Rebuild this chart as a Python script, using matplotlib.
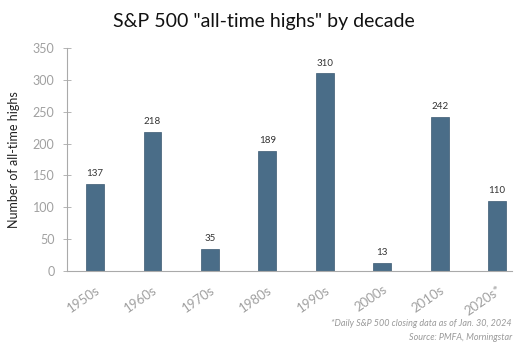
import matplotlib.pyplot as plt

# data
decades = ['1950s', '1960s', '1970s', '1980s', '1990s', '2000s', '2010s', '2020s*']
highs = [137, 218, 35, 189, 310, 13, 242, 110]
yticks = [0, 50, 100, 150, 200, 250, 300, 350]

plt.rcParams['font.family'] = ['Lato', 'DejaVu Sans']

fig = plt.figure(figsize=(5.28, 3.52), dpi=100)
ax = fig.add_axes([67 / 528, 1 - 271 / 352, (512 - 67) / 528, (271 - 48) / 352])

x = range(len(decades))
bars = ax.bar(x, highs, width=0.31, color='#4a6d88', edgecolor='#3c5a72', linewidth=0.5)
for xi, v in zip(x, highs):
    ax.text(xi, v + 9, str(v), ha='center', va='bottom', fontsize=7, color='#333333')

ax.set_ylim(0, 350)
ax.set_xlim(-0.49, 7.26)
ax.set_yticks(yticks)
ax.set_xticks(list(x))
ax.set_xticklabels(decades, rotation=35, ha='right', rotation_mode='anchor',
                   fontsize=9.5, color='#a0a0a0')
ax.tick_params(axis='y', direction='inout', length=6, width=0.6, color='#aaaaaa',
               labelsize=9, labelcolor='#a0a0a0', pad=6)
ax.tick_params(axis='x', length=0, pad=9)
for s in ['top', 'right']:
    ax.spines[s].set_visible(False)
for s in ['left', 'bottom']:
    ax.spines[s].set_color('#aaaaaa')
    ax.spines[s].set_linewidth(0.8)

ax.set_ylabel('Number of all-time highs', fontsize=9, color='#222222', labelpad=9)
fig.text(0.5, 1 - 22 / 352, 'S&P 500 "all-time highs" by decade', ha='center', va='center',
         fontsize=14, color='#111111')
fig.text(512 / 528, 1 - 324 / 352, '*Daily S&P 500 closing data as of Jan. 30, 2024',
         ha='right', va='center', fontsize=6.5, style='italic', color='#999999')
fig.text(512 / 528, 1 - 338 / 352, 'Source: PMFA, Morningstar',
         ha='right', va='center', fontsize=6.5, style='italic', color='#999999')

fig.savefig('out.png', dpi=100)
